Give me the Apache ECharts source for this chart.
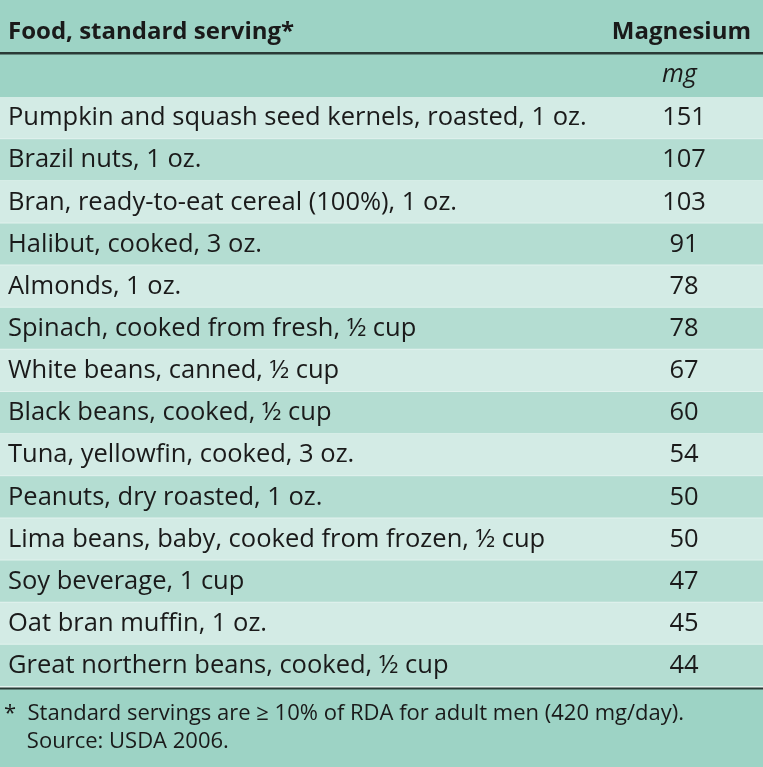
<!DOCTYPE html><html><head><meta charset="utf-8">
<script src="https://cdn.jsdelivr.net/npm/echarts@6/dist/echarts.min.js"></script>
<style>html,body{margin:0;padding:0;background:#9dd3c5}#c{width:763px;height:767px}</style></head><body><div id="c"></div>
<script>
const foods=["Pumpkin and squash seed kernels, roasted, 1 oz.","Brazil nuts, 1 oz.","Bran, ready-to-eat cereal (100%), 1 oz.","Halibut, cooked, 3 oz.","Almonds, 1 oz.","Spinach, cooked from fresh, ½ cup","White beans, canned, ½ cup","Black beans, cooked, ½ cup","Tuna, yellowfin, cooked, 3 oz.","Peanuts, dry roasted, 1 oz.","Lima beans, baby, cooked from frozen, ½ cup","Soy beverage, 1 cup","Oat bran muffin, 1 oz.","Great northern beans, cooked, ½ cup"];
const magnesium=[151,107,103,91,78,78,67,60,54,50,50,47,45,44];
const headers=["Food, standard serving*","Magnesium","mg"];
const notes=["*  Standard servings are ≥ 10% of RDA for adult men (420 mg/day).","    Source: USDA 2006."];
const F='"Open Sans", "Noto Sans", sans-serif';
const ch=echarts.init(document.getElementById('c'));
ch.setOption({
 backgroundColor:'#9dd3c5',animation:false,
 grid:{left:0,right:0,top:97,bottom:80},
 xAxis:{type:'value',min:0,max:1,show:false},
 yAxis:{type:'category',data:foods,inverse:true,show:false},
 graphic:[
  {type:'text',left:8,top:20,style:{text:headers[0],font:'bold 24px '+F,fill:'#1a1a1a'}},
  {type:'text',right:12,top:20,style:{text:headers[1],font:'bold 24px '+F,fill:'#1a1a1a'}},
  {type:'text',left:662,top:62,style:{text:headers[2],font:'italic 25px '+F,fill:'#1a1a1a'}},
  {type:'rect',shape:{x:0,y:52,width:763,height:2.5},style:{fill:'#2a3a36'}},
  {type:'rect',shape:{x:0,y:687,width:763,height:2.5},style:{fill:'#2a3a36'}},
  {type:'text',left:4,top:703,style:{text:notes[0],font:'22px '+F,fill:'#1a1a1a'}},
  {type:'text',left:4,top:731,style:{text:notes[1],font:'22px '+F,fill:'#1a1a1a'}}
 ],
 series:[{type:'custom',data:foods.map((f,i)=>[i,magnesium[i]]),
  renderItem:(p,api)=>{
   const i=api.value(0);const c=api.coord([0,i]);const h=api.size([0,1])[1];
   const w=p.coordSys.width;
   return {type:'group',children:[
    {type:'rect',shape:{x:0,y:c[1]-h/2,width:w,height:h},style:{fill:i%2===0?'#d3ebe5':'#b4ddd2'}},
    {type:'rect',shape:{x:0,y:c[1]+h/2-1,width:w,height:1.5},style:{fill:'#e2f2ee'}},
    {type:'text',x:8,y:c[1],style:{text:foods[i],font:'25.5px '+F,fill:'#1a1a1a',textVerticalAlign:'middle'}},
    {type:'text',x:684,y:c[1],style:{text:String(api.value(1)),font:'25.5px '+F,fill:'#1a1a1a',textAlign:'center',textVerticalAlign:'middle'}}
   ]};
  }}]
});
</script></body></html>
